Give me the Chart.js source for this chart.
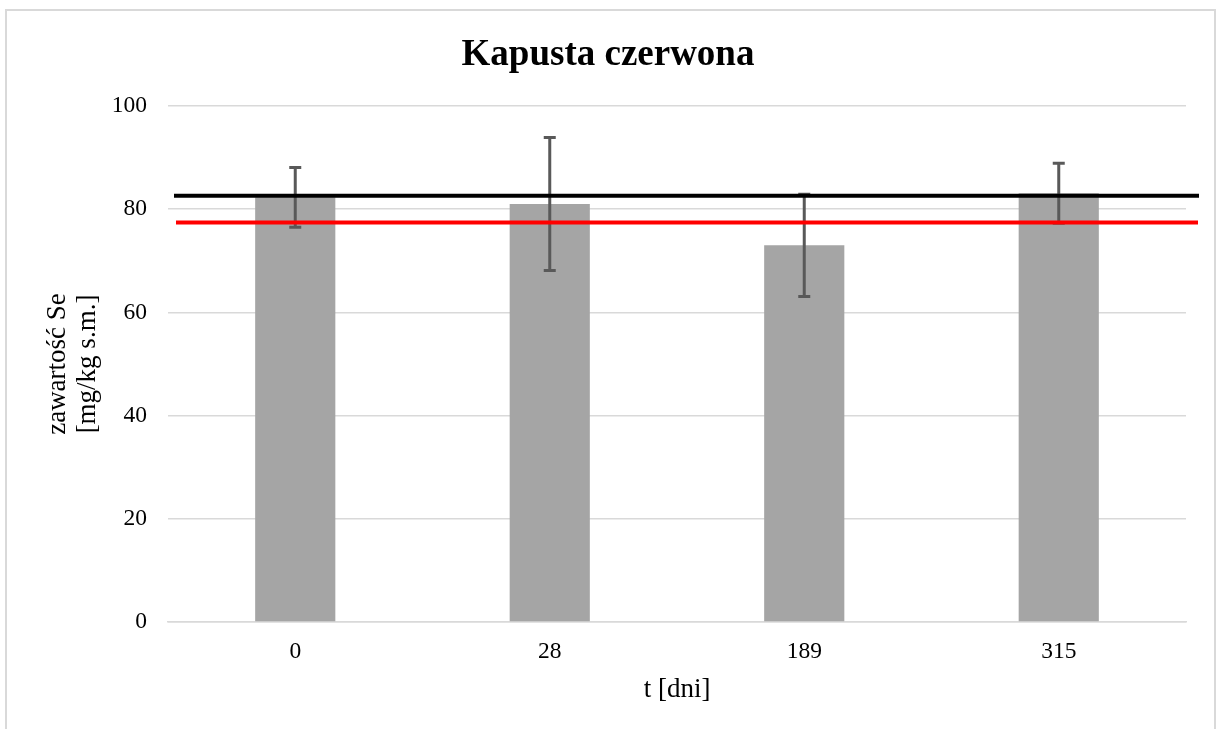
<!DOCTYPE html>
<html lang="pl">
<head>
<meta charset="utf-8">
<title>Kapusta czerwona</title>
<script src="https://cdn.jsdelivr.net/npm/chart.js@4/dist/chart.umd.min.js"></script>
<style>
  html, body { margin: 0; padding: 0; background: #ffffff; }
  #wrap { position: relative; width: 1216px; height: 729px; overflow: hidden; }
  #frame { position: absolute; left: 5px; top: 9px; width: 1211px; height: 740px;
           border: 2px solid #d9d9d9; box-sizing: border-box; pointer-events: none; }
  canvas { position: absolute; left: 0; top: 0; }
</style>
</head>
<body>
<div id="wrap">
  <canvas id="chart" width="1216" height="729"></canvas>
  <div id="frame"></div>
</div>
<script>
// Selenium content of red cabbage over storage time
const categories = ['0', '28', '189', '315'];
const seMeans = [82.3, 81.0, 73.0, 83.1];
const seErrors = [5.8, 12.9, 9.9, 5.8];
const yTicks = [0, 20, 40, 60, 80, 100];
// Reference levels drawn across the plot
const blackLevel = 82.6;
const redLevel = 77.4;

const FONT = "'Liberation Serif', 'Times New Roman', serif";

// Error bars, drawn after the bars
const errorBarPlugin = {
  id: 'errorBars',
  afterDatasetsDraw(chart) {
    const meta = chart.getDatasetMeta(0);
    const y = chart.scales.y;
    const ctx = chart.ctx;
    ctx.save();
    ctx.strokeStyle = '#595959';
    ctx.lineWidth = 3;
    meta.data.forEach((bar, i) => {
      const top = y.getPixelForValue(seMeans[i] + seErrors[i]);
      const bot = y.getPixelForValue(seMeans[i] - seErrors[i]);
      const cx = bar.x;
      const cap = 6;
      ctx.beginPath();
      ctx.moveTo(cx, top); ctx.lineTo(cx, bot);
      ctx.moveTo(cx - cap, top); ctx.lineTo(cx + cap, top);
      ctx.moveTo(cx - cap, bot); ctx.lineTo(cx + cap, bot);
      ctx.stroke();
    });
    ctx.restore();
  }
};

// Horizontal reference lines, drawn on top of everything in the plot
const levelLinesPlugin = {
  id: 'levelLines',
  afterDraw(chart) {
    const y = chart.scales.y;
    const area = chart.chartArea;
    const ctx = chart.ctx;
    const lines = [
      { v: blackLevel, color: '#000000', x0: area.left + 6, x1: area.right + 13 },
      { v: redLevel, color: '#ff0000', x0: area.left + 8, x1: area.right + 12 }
    ];
    ctx.save();
    ctx.lineWidth = 4;
    lines.forEach(l => {
      const py = y.getPixelForValue(l.v);
      ctx.strokeStyle = l.color;
      ctx.beginPath();
      ctx.moveTo(l.x0, py);
      ctx.lineTo(l.x1, py);
      ctx.stroke();
    });
    ctx.restore();
  }
};

new Chart(document.getElementById('chart'), {
  type: 'bar',
  data: {
    labels: categories,
    datasets: [{
      data: seMeans,
      backgroundColor: '#a5a5a5',
      borderWidth: 0,
      categoryPercentage: 1.0,
      barPercentage: 0.315
    }]
  },
  options: {
    responsive: false,
    animation: false,
    devicePixelRatio: 1,
    layout: { padding: { top: 0, right: 30, bottom: 0, left: 30 } },
    plugins: {
      legend: { display: false },
      tooltip: { enabled: false },
      title: {
        display: true,
        text: 'Kapusta czerwona',
        color: '#000000',
        font: { family: FONT, size: 37, weight: 'bold', lineHeight: 1.2 },
        padding: { top: 33, bottom: 28.6 }
      }
    },
    scales: {
      x: {
        grid: { display: false, drawTicks: false },
        border: { display: true, color: '#d9d9d9', width: 1.5 },
        ticks: { color: '#000000', padding: 16, font: { family: FONT, size: 23.5 } },
        title: {
          display: true,
          text: 't [dni]',
          color: '#000000',
          font: { family: FONT, size: 27, lineHeight: 1.2 },
          padding: { top: 0, bottom: 23 }
        },
        afterFit(scale) { scale.height = 107; }
      },
      y: {
        min: 0,
        max: 100,
        afterBuildTicks(scale) { scale.ticks = yTicks.map(v => ({ value: v })); },
        grid: { color: '#d9d9d9', lineWidth: 1.5, drawTicks: false },
        border: { display: false },
        ticks: { color: '#000000', padding: 21, font: { family: FONT, size: 23.5 } },
        title: {
          display: true,
          text: ['zawartość Se', '[mg/kg s.m.]'],
          color: '#000000',
          font: { family: FONT, size: 27, lineHeight: 1.12 },
          padding: { top: 13, bottom: 0 }
        },
        afterFit(scale) { scale.width = 138; }
      }
    }
  },
  plugins: [errorBarPlugin, levelLinesPlugin]
});
</script>
</body>
</html>
